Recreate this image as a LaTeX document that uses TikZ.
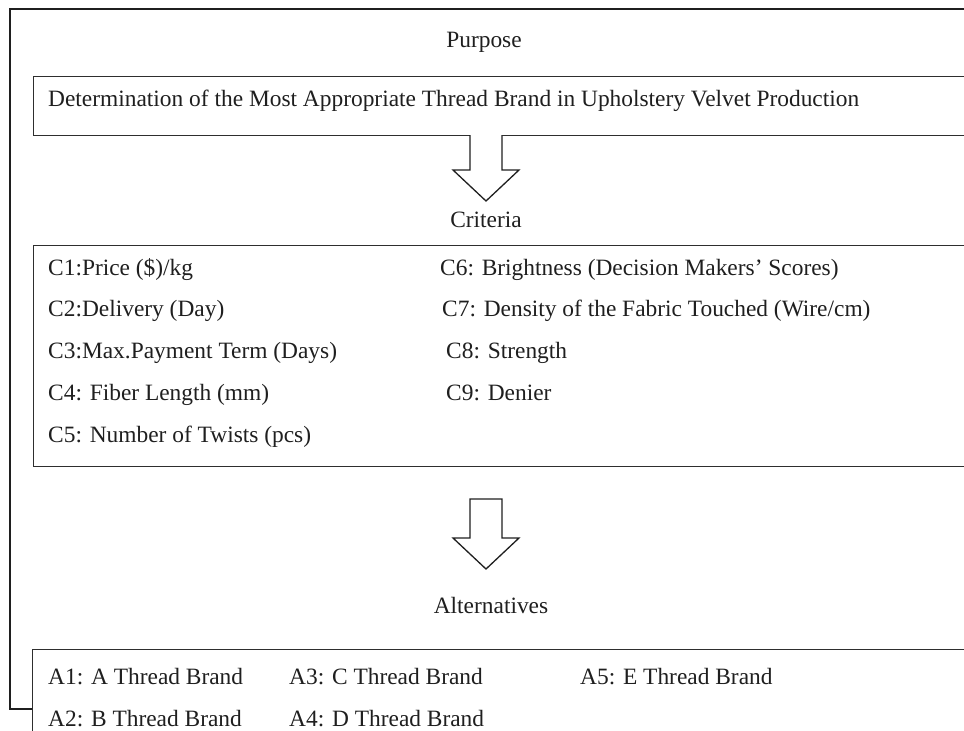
\documentclass[tikz,border=0pt]{standalone}
\usepackage{fontspec}
\setmainfont{Liberation Serif}
\usetikzlibrary{calc}
\begin{document}
\begin{tikzpicture}[x=1pt,y=-1pt,
  txt/.style={font=\fontsize{23.4}{28}\selectfont, text=black!88, inner sep=0pt, anchor=base west},
  lbl/.style={font=\fontsize{23.4}{28}\selectfont, text=black!88, inner sep=0pt, anchor=base},
  framebox/.style={draw=black!88, line width=1.8pt, fill=none},
  boxline/.style={draw=black!82, line width=1.3pt},
  blockarrow/.style={draw=black!88, line width=1.3pt, line join=miter, fill=white}]
\useasboundingbox (0,0) rectangle (964,731);
\fill[white] (0,0) rectangle (964,731);
% outer frame
\coordinate (ftr) at (975,9);
\coordinate (ftl) at (10,9);
\coordinate (fbl) at (10,709);
\coordinate (fbr) at (32,709);
\draw[framebox] (ftr) -- (ftl) -- (fbl) -- (fbr);
% purpose
\node[lbl] (plabel) at (484,47) {Purpose};
\node[boxline, rectangle, inner sep=0pt, minimum width=950pt, minimum height=59pt, anchor=north west] (pbox) at (33,76) {};
\node[txt] (ptext) at (48,106) {Determination of the Most Appropriate Thread Brand in Upholstery Velvet Production};
% arrow 1
\coordinate (a1) at (486,135);
\draw[blockarrow] ($(a1)+(-16,0)$) -- ++(0,35) -- ++(-17,0) -- (486,201) -- (519,170) -- ++(-17,0) -- ++(0,-35);
% criteria
\node[lbl] (clabel) at (486,227) {Criteria};
\node[boxline, rectangle, inner sep=0pt, minimum width=950pt, minimum height=221pt, anchor=north west] (cbox) at (33,245) {};
\node[txt] (c1) at (48,275) {C1:Price (\$)/kg};
\node[txt] (c2) at (48,316) {C2:Delivery (Day)};
\node[txt] (c3) at (48,358) {C3:Max.Payment Term (Days)};
\node[txt] (c4) at (48,400) {C4: Fiber Length (mm)};
\node[txt] (c5) at (48,442) {C5: Number of Twists (pcs)};
\node[txt] (c6) at (440,275) {C6: Brightness (Decision Makers’ Scores)};
\node[txt] (c7) at (442,316) {C7: Density of the Fabric Touched (Wire/cm)};
\node[txt] (c8) at (446,358) {C8: Strength};
\node[txt] (c9) at (446,400) {C9: Denier};
% arrow 2
\coordinate (a2) at (486,499);
\draw[blockarrow] ($(a2)+(-16,0)$) -- ++(0,39) -- ++(-17,0) -- (486,569) -- (519,538) -- ++(-17,0) -- ++(0,-39) -- cycle;
% alternatives
\node[lbl] (alabel) at (491,613) {Alternatives};
\node[boxline, rectangle, inner sep=0pt, minimum width=950pt, minimum height=120pt, anchor=north west] (abox) at (32,649) {};
\node[txt] (alt1) at (48,684) {A1: A Thread Brand};
\node[txt] (alt2) at (48,726) {A2: B Thread Brand};
\node[txt] (alt3) at (289,684) {A3: C Thread Brand};
\node[txt] (alt4) at (289,726) {A4: D Thread Brand};
\node[txt] (alt5) at (580,684) {A5: E Thread Brand};
\end{tikzpicture}
\end{document}
